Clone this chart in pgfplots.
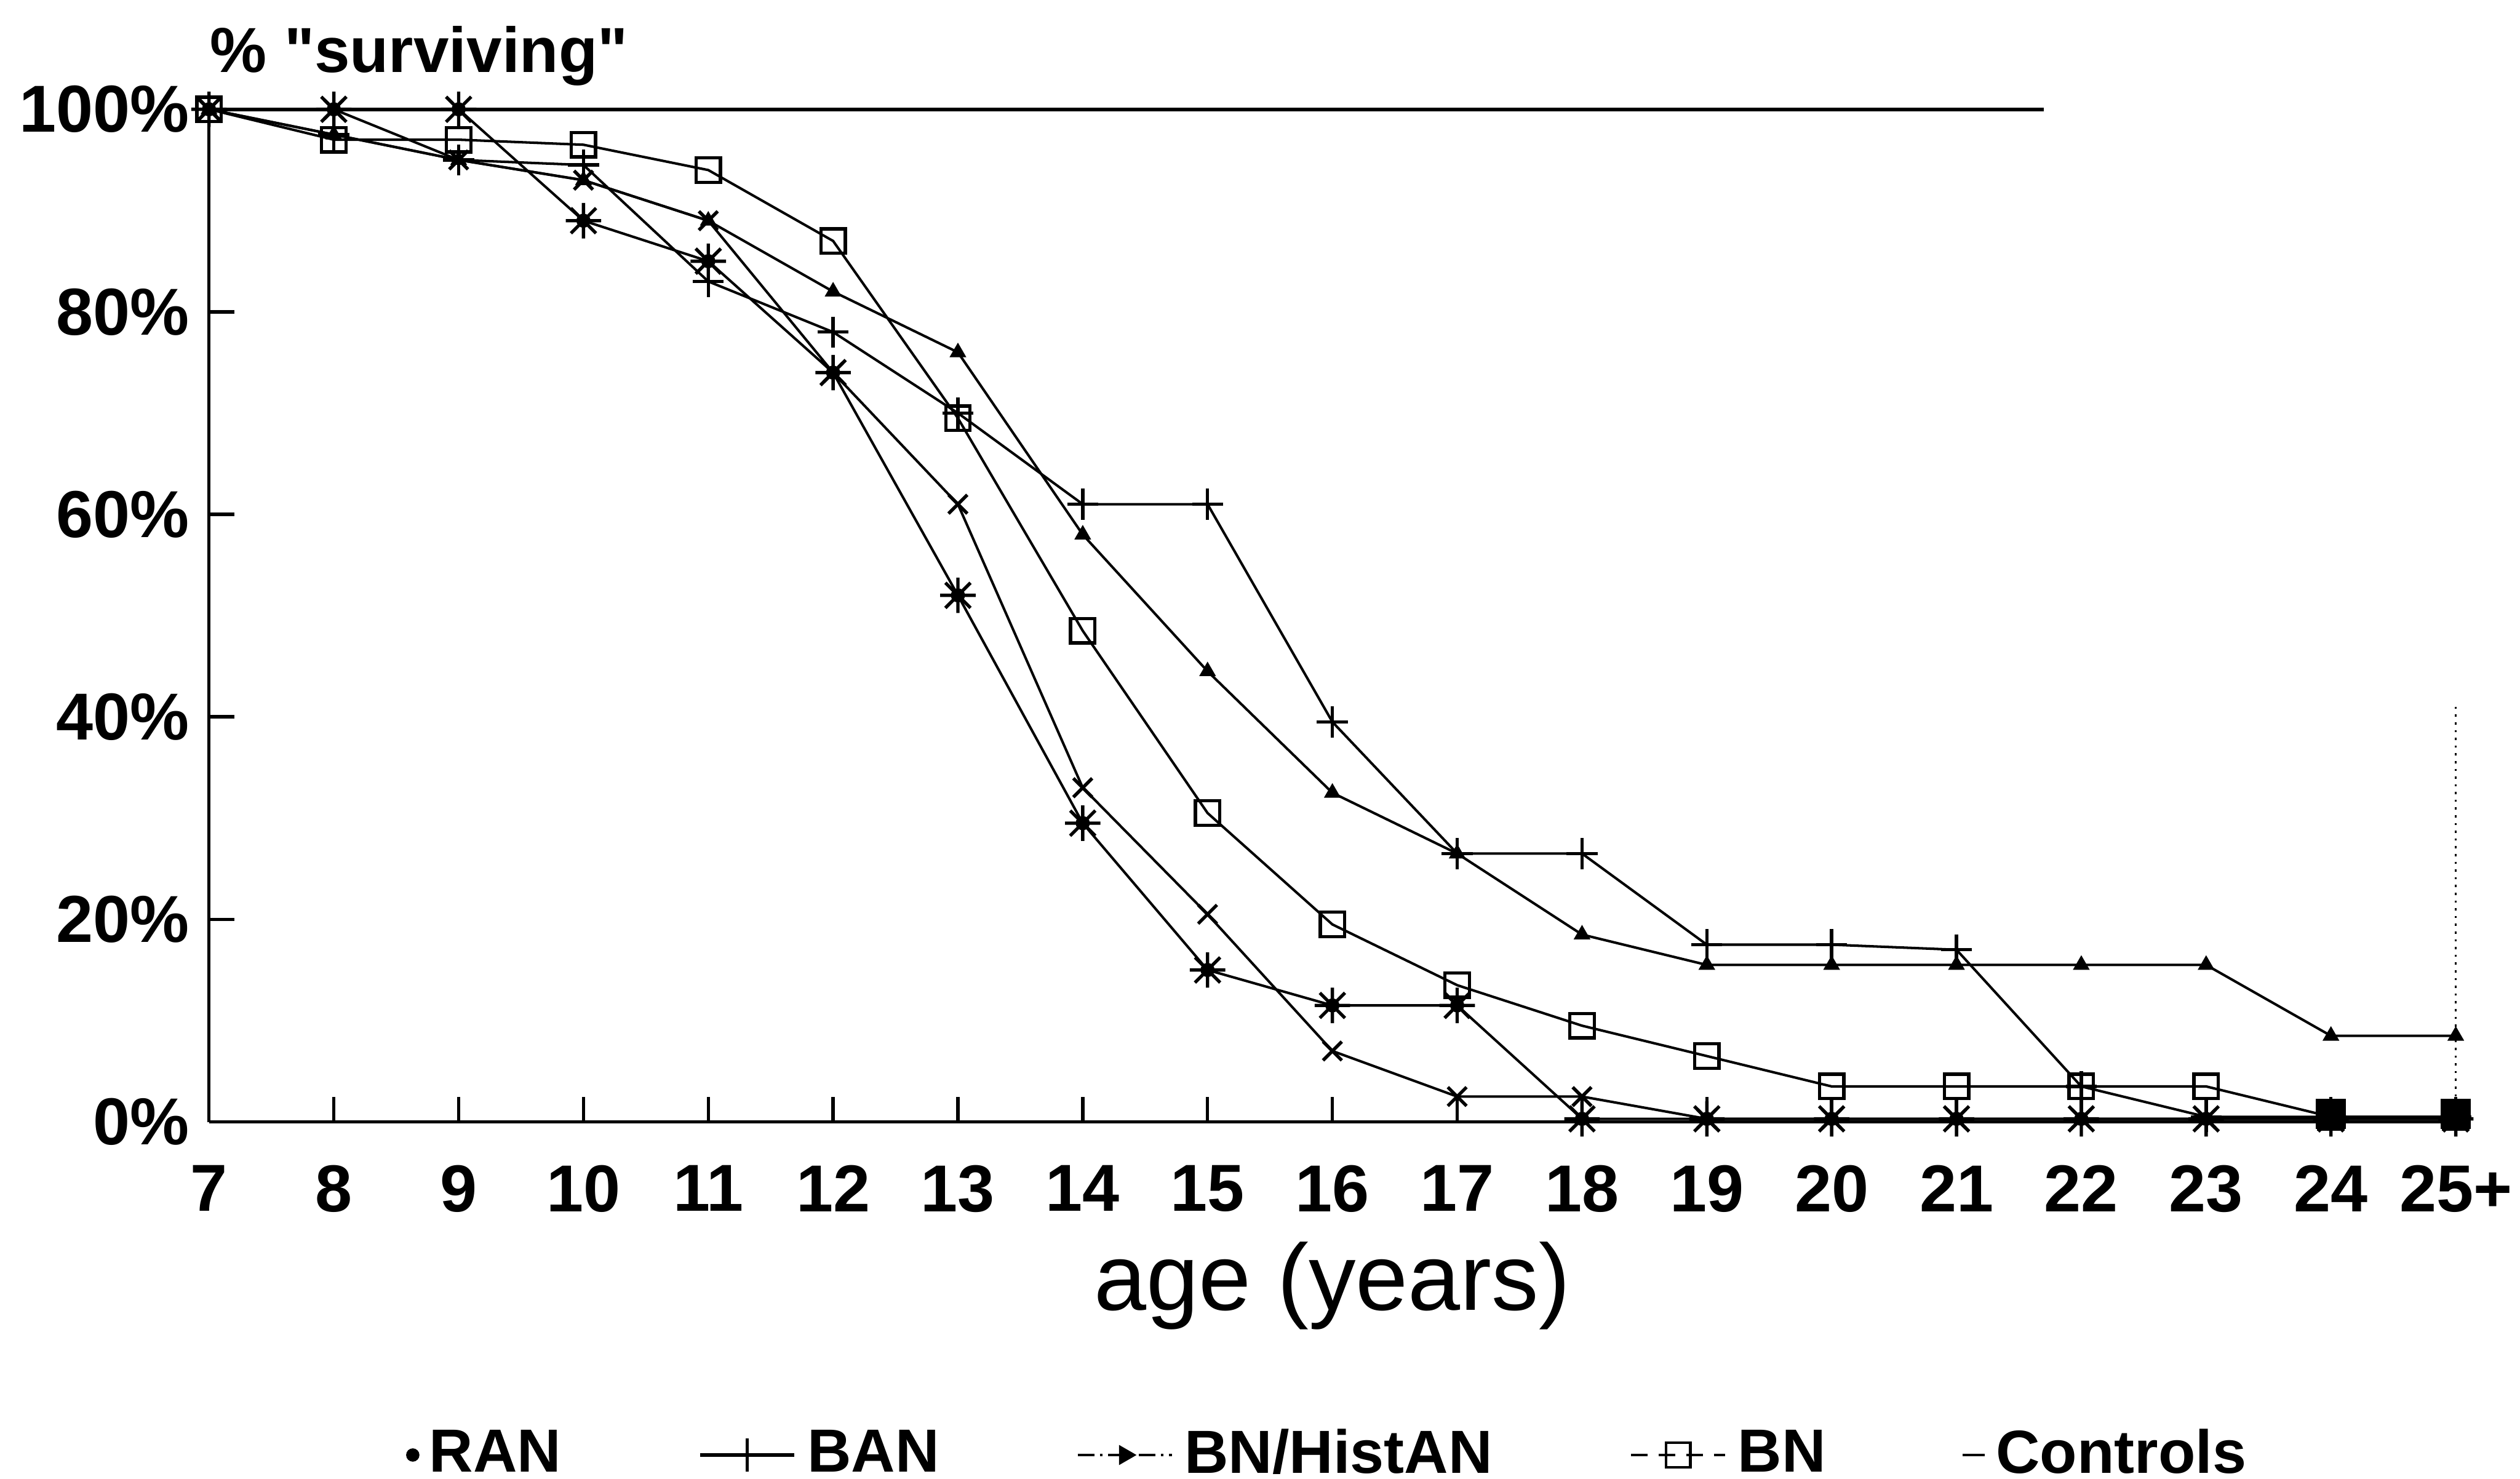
\documentclass[border=0pt]{standalone}
\usepackage{fontspec}
\setmainfont{Liberation Sans}
\newfontfamily\qfont{Liberation Sans}
\usepackage{pgfplots}
\pgfplotsset{compat=1.18}

\pgfdeclareplotmark{burst}{%
  \pgfpathmoveto{\pgfqpoint{-\pgfplotmarksize}{0pt}}%
  \pgfpathlineto{\pgfqpoint{\pgfplotmarksize}{0pt}}%
  \pgfpathmoveto{\pgfqpoint{0pt}{-\pgfplotmarksize}}%
  \pgfpathlineto{\pgfqpoint{0pt}{\pgfplotmarksize}}%
  \pgfpathmoveto{\pgfqpoint{-0.71\pgfplotmarksize}{-0.71\pgfplotmarksize}}%
  \pgfpathlineto{\pgfqpoint{0.71\pgfplotmarksize}{0.71\pgfplotmarksize}}%
  \pgfpathmoveto{\pgfqpoint{-0.71\pgfplotmarksize}{0.71\pgfplotmarksize}}%
  \pgfpathlineto{\pgfqpoint{0.71\pgfplotmarksize}{-0.71\pgfplotmarksize}}%
  \pgfusepathqstroke
  \pgfpathcircle{\pgfpointorigin}{0.4\pgfplotmarksize}%
  \pgfusepathqfill
}

\begin{document}
\begin{tikzpicture}
\begin{axis}[
  scale only axis, width=14.265cm, height=6.429cm,
  xmin=7, xmax=25, ymin=0, ymax=100,
  axis lines*=left,
  axis line style={line width=0.6pt},
  xtick={7,...,25},
  xticklabels={7,8,9,10,11,12,13,14,15,16,17,18,19,20,21,22,23,24,25+},
  ytick={0,20,40,60,80,100},
  yticklabels={0\%,20\%,40\%,60\%,80\%,100\%},
  tick align=inside,
  major tick length=0.16cm,
  tick style={black, line width=0.6pt},
  ticklabel style={font=\bfseries\fontsize{12}{14}\selectfont},
  xticklabel style={yshift=-0.15cm},
  xlabel={age (years)},
  xlabel style={font=\fontsize{17}{20}\selectfont, at={(axis description cs:0.5,0)}, anchor=center, yshift=-1.04cm},
  every axis title shift=0pt,
  title={{\qfont\bfseries\%\ "surviving"}},
  title style={at={(axis description cs:0,1)}, anchor=base west, inner sep=0pt, yshift=0.235cm, font=\bfseries\fontsize{11.5}{14}\selectfont},
  legend columns=5,
  legend style={at={(axis description cs:0.5,-0.329)}, anchor=center, draw=none, fill=none,
    font=\bfseries\fontsize{11}{13}\selectfont,
    /tikz/every even column/.append style={column sep=0.8cm}},
  clip=false,
]
\coordinate (O) at (rel axis cs:0,0);

% Controls
\addplot[forget plot, black, line width=0.7pt] coordinates {
(7,100) (8,100) (9,100) (10,100) (11,100) (12,100) (13,100) (14,100)
(15,100) (16,100) (17,100) (18,100) (19,100) (20,100) (21,100) (21.7,100)};

% BN (squares)
\addplot[forget plot, black, line width=0.45pt, mark=square, mark size=2.2pt, mark options={line width=0.6pt}] coordinates {
(7,100) (8,97) (9,97) (10,96.5) (11,94) (12,87) (13,69.5) (14,48.5) (15,30.5)
(16,19.5) (17,13.5) (18,9.5) (19,6.5) (20,3.5) (21,3.5) (22,3.5) (23,3.5) (24,0.5) (25,0.5)};

% BAN (plus)
\addplot[forget plot, black, line width=0.45pt, mark=+, mark size=2.8pt, mark options={line width=0.6pt}] coordinates {
(7,100) (8,97.5) (9,95) (10,94.5) (11,83) (12,78) (13,70) (14,61) (15,61)
(16,39.5) (17,26.5) (18,26.5) (19,17.5) (20,17.5) (21,17) (22,3.5) (23,0.5) (24,0.5) (25,0.5)};

% BN/HistAN (small filled markers)
\addplot[forget plot, black, line width=0.45pt, mark=triangle*, mark size=1.3pt] coordinates {
(7,100) (8,97.5) (9,95) (10,93) (11,89) (12,82) (13,76) (14,58) (15,44.5)
(16,32.5) (17,26.5) (18,18.5) (19,15.5) (20,15.5) (21,15.5) (22,15.5) (23,15.5) (24,8.5) (25,8.5)};

% crosses
\addplot[forget plot, black, line width=0.45pt, mark=x, mark size=2.4pt, mark options={line width=0.6pt}] coordinates {
(7,100) (8,100) (9,95) (10,93) (11,89) (12,74) (13,61) (14,33) (15,20.5)
(16,7) (17,2.5) (18,2.5) (19,0.3) (20,0.3) (21,0.3) (22,0.3) (23,0.3) (24,0.3) (25,0.3)};

% RAN (asterisks)
\addplot[forget plot, black, line width=0.45pt, mark=burst, mark size=3.2pt, mark options={line width=0.6pt}] coordinates {
(7,100) (8,100) (9,100) (10,89) (11,85) (12,74) (13,52) (14,29.5) (15,15)
(16,11.5) (17,11.5) (18,0.3) (19,0.3) (20,0.3) (21,0.3) (22,0.3) (23,0.3) (24,0.3) (25,0.3)};

% end markers and dotted drop at 25+
\addplot[forget plot, black, densely dotted, line width=0.4pt] coordinates {(25,41) (25,0.5)};
\addplot[forget plot, black, only marks, mark=square*, mark size=2.5pt] coordinates {(24,0.8) (25,0.8)};

% legend
\addlegendimage{black, only marks, mark=*, mark size=1pt}
\addlegendentry{RAN}
\addlegendimage{black, line width=0.6pt, mark=+, mark size=3pt}
\addlegendentry{BAN}
\addlegendimage{black, line width=0.5pt, densely dash dot, mark=triangle*, mark size=1.6pt, mark options={solid, rotate=-90}}
\addlegendentry{BN/HistAN}
\addlegendimage{black, line width=0.5pt, densely dashed, mark=square, mark size=2.2pt, mark options={solid}}
\addlegendentry{BN}
\addlegendimage{black, only marks, mark=-, mark size=2pt}
\addlegendentry{Controls}
\end{axis}
\pgfresetboundingbox
\path (O) ++(-1.327cm,-2.265cm) rectangle ++(16cm,9.388cm);
\end{tikzpicture}
\end{document}
